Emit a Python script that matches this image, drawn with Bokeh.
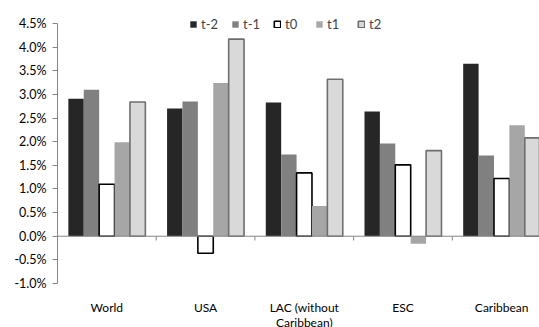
from bokeh.plotting import figure
from bokeh.models import (Range1d, FixedTicker, NumeralTickFormatter, Span,
                          Legend, LegendItem, ColumnDataSource)
from bokeh.embed import file_html
from bokeh.resources import INLINE
import numpy as np

categories = ["World", "USA", "LAC (without\nCaribbean)", "ESC", "Caribbean"]
series = ["t-2", "t-1", "t0", "t1", "t2"]
t_m2 = [2.91, 2.70, 2.83, 2.64, 3.65]
t_m1 = [3.10, 2.85, 1.73, 1.96, 1.71]
t_0 = [1.10, -0.36, 1.34, 1.51, 1.22]
t_1 = [1.99, 3.24, 0.64, -0.16, 2.35]
t_2 = [2.84, 4.17, 3.32, 1.81, 2.08]
y_ticks = [-1.0, -0.5, 0.0, 0.5, 1.0, 1.5, 2.0, 2.5, 3.0, 3.5, 4.0, 4.5]

values = [t_m2, t_m1, t_0, t_1, t_2]
fills = ["#262626", "#808080", "#ffffff", "#a6a6a6", "#d9d9d9"]
lines = [None, None, "#000000", None, "#6e6e6e"]
lwidths = [0, 0, 1.6, 0, 1.6]

FONT = "Lato"
bar_w = 0.156
centers = np.arange(len(categories)) + 0.5

top_v = 0.045 + 18 / 47.27 / 100
bot_v = -0.010 - 7 / 47.27 / 100

p = figure(frame_width=482, frame_height=285, output_backend="svg",
           toolbar_location=None,
           x_range=Range1d(0, 4.883), y_range=Range1d(bot_v, top_v),
           min_border_left=57, min_border_right=0, min_border_top=5,
           min_border_bottom=30)
p.outline_line_color = None
p.xgrid.visible = False
p.ygrid.visible = False
p.background_fill_color = "white"
p.border_fill_color = "white"

items = []
for i, (name, vals) in enumerate(zip(series, values)):
    src = ColumnDataSource(dict(x=centers + (i - 2) * bar_w,
                                top=[v / 100 for v in vals]))
    r = p.vbar(x="x", top="top", bottom=0, width=bar_w, source=src,
               fill_color=fills[i], line_color=lines[i], line_width=lwidths[i])
    items.append(LegendItem(label=name, renderers=[r]))

# zero line
p.add_layout(Span(location=0, dimension="width", line_color="#868686", line_width=1))
# boundary ticks below zero line
bx = np.arange(1, len(categories))
p.segment(x0=bx, x1=bx, y0=[0] * len(bx), y1=[-0.0009] * len(bx),
          line_color="#868686", line_width=1)

# y axis
ya = p.yaxis[0]
ya.ticker = FixedTicker(ticks=[v / 100 for v in y_ticks])
ya.formatter = NumeralTickFormatter(format="0.0%")
ya.bounds = (-0.010, 0.045)
ya.axis_line_color = "#868686"
ya.major_tick_line_color = "#868686"
ya.major_tick_out = 5
ya.major_tick_in = 0
ya.minor_tick_line_color = None
ya.major_label_standoff = 6
ya.major_label_text_font = FONT
ya.major_label_text_font_size = "12.5px"
ya.major_label_text_color = "#000000"

# x axis (labels only)
xa = p.xaxis[0]
xa.ticker = FixedTicker(ticks=list(centers))
xa.major_label_overrides = {float(c): lab for c, lab in zip(centers, categories)}
xa.axis_line_color = None
xa.major_tick_line_color = None
xa.minor_tick_line_color = None
xa.major_label_standoff = 3
xa.major_label_text_font = FONT
xa.major_label_text_font_size = "12px"
xa.major_label_text_color = "#000000"
xa.major_label_text_line_height = 1.0

legend = Legend(items=items, orientation="horizontal", location=(132, 258),
                glyph_width=8, glyph_height=8, label_standoff=4, spacing=10,
                padding=0, margin=0, border_line_color=None,
                background_fill_alpha=0, label_text_font=FONT,
                label_text_font_size="13px", label_height=14)
p.add_layout(legend)

open("out.html", "w").write(file_html(p, INLINE))
